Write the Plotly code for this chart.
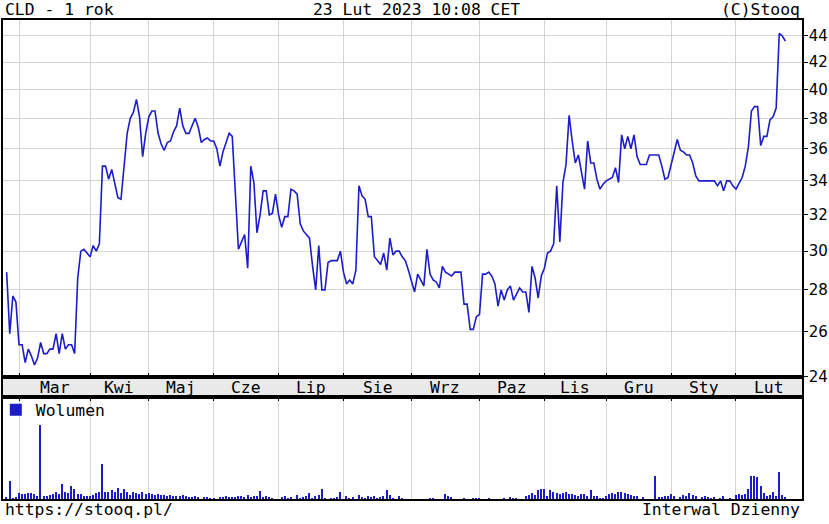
import math
import plotly.graph_objects as go

# --- data -------------------------------------------------------------
# CLD daily close, trading days 23 Feb 2022 .. 23 Feb 2023 (index 0..252)
close = [
    28.9, 25.9, 27.7, 27.4,
    # Mar
    25.4, 25.4, 24.6, 25.2, 24.9, 24.5, 24.8, 25.5, 25.0, 25.0, 25.2, 25.2,
    25.9, 25.0, 25.9, 25.2, 25.4, 25.4, 25.0, 28.6, 30.0, 30.1, 29.9,
    # Kwi
    29.7, 30.3, 30.0, 30.4, 34.9, 34.9, 34.1, 34.7, 33.9, 33.0, 32.9, 34.9,
    37.0, 38.0, 38.4, 39.3, 38.1, 35.5, 37.0,
    # Maj
    38.1, 38.5, 38.5, 37.0, 36.3, 35.9, 36.4, 36.5, 37.1, 37.5, 38.7, 37.5,
    37.0, 37.0, 37.5, 38.0, 37.4, 36.4, 36.6, 36.7, 36.5,
    # Cze
    36.5, 36.0, 34.9, 35.8, 36.4, 37.0, 36.8, 33.4, 30.1, 30.5, 30.9, 29.1,
    34.9, 33.9, 31.0, 32.0, 33.4, 33.4, 32.0, 32.1, 33.2,
    # Lip
    32.0, 31.3, 31.9, 31.9, 33.5, 33.4, 33.2, 31.5, 31.1, 30.9, 30.7, 29.2,
    28.0, 30.3, 28.0, 28.0, 29.4, 29.5, 29.5, 29.5, 30.0,
    # Sie
    28.9, 28.3, 28.5, 28.3, 29.0, 33.7, 33.1, 32.9, 31.9, 31.9, 29.7, 29.5,
    29.3, 29.9, 29.0, 30.7, 29.8, 30.0, 30.0, 29.7, 29.5, 29.0,
    # Wrz
    28.4, 27.9, 28.8, 28.5, 28.2, 30.1, 28.8, 28.5, 28.4, 28.1, 29.2, 28.9,
    28.8, 28.7, 28.9, 28.9, 28.9, 27.3, 27.3, 26.1, 26.1, 26.7,
    # Paz
    26.8, 28.8, 28.8, 28.9, 28.7, 28.3, 27.2, 28.0, 27.5, 28.0, 28.2, 27.5,
    27.8, 28.1, 27.9, 27.9, 26.9, 29.2, 28.6, 27.6, 28.7,
    # Lis
    29.1, 29.9, 30.0, 30.4, 33.7, 30.5, 33.9, 35.0, 38.2, 36.5, 35.1, 35.6,
    34.4, 33.5, 36.5, 35.1, 35.1, 34.1, 33.5, 33.8,
    # Gru
    34.0, 34.1, 34.2, 34.8, 33.9, 36.9, 36.0, 36.8, 36.0, 36.9, 35.5, 35.0,
    35.0, 35.0, 35.6, 35.6, 35.6, 35.6, 34.9, 34.1, 34.2,
    # Sty
    35.0, 35.9, 36.6, 35.9, 35.8, 35.6, 35.6, 35.1, 34.3, 34.0, 34.0, 34.0,
    34.0, 34.0, 34.0, 33.7, 34.0, 33.4, 34.0, 34.0, 33.7,
    # Lut
    33.5, 33.9, 34.2, 34.9, 36.1, 38.5, 38.8, 38.8, 36.2, 36.8, 36.8, 37.9,
    38.1, 38.7, 44.2, 44.0, 43.6,
]

# daily volume (thousand shares)
volume = [
    2, 18, 1, 2,
    6, 5, 5, 6, 6, 5, 3, 74, 3, 3, 4, 5, 7, 5, 15, 7, 6, 13, 10, 5, 5, 3, 3,
    3, 4, 6, 7, 35, 7, 7, 9, 7, 11, 6, 10, 7, 4, 7, 6, 5, 7, 5,
    6, 5, 4, 5, 4, 4, 3, 4, 3, 3, 3, 4, 3, 2, 2, 3, 2, 0, 2, 2, 1,
    1, 0, 2, 2, 3, 2, 2, 2, 3, 3, 2, 4, 2, 3, 3, 8, 2, 3, 2, 1, 0,
    0, 2, 3, 1, 2, 0, 4, 1, 2, 3, 6, 1, 3, 4, 10, 1, 0, 1, 1, 2, 7,
    0, 3, 1, 2, 0, 4, 2, 1, 3, 2, 3, 1, 2, 3, 9, 4, 1, 0, 3, 1, 0, 0,
    0, 0, 0, 0, 0, 0, 1, 1, 0, 0, 0, 5, 3, 2, 0, 0, 0, 1, 0, 0, 1, 1,
    1, 0, 0, 1, 0, 0, 0, 0, 1, 0, 2, 1, 1, 0, 0, 3, 4, 6, 4, 9, 10,
    10, 3, 9, 7, 6, 5, 6, 7, 5, 5, 4, 3, 5, 5, 3, 9, 3, 3, 1, 1,
    3, 5, 6, 5, 7, 7, 6, 5, 4, 3, 3, 0, 2, 0, 0, 0, 23, 2, 2, 3, 3,
    5, 3, 0, 2, 4, 3, 6, 4, 3, 0, 2, 3, 2, 1, 2, 0, 1, 3, 0, 1, 0,
    4, 5, 4, 5, 10, 23, 23, 22, 13, 6, 3, 4, 7, 3, 27, 4, 2,
]

# first trading day of each month (index into the series) and its label
month_start = [4, 27, 46, 67, 88, 109, 131, 153, 174, 194, 215, 236]
month_names = ["Mar", "Kwi", "Maj", "Cze", "Lip", "Sie", "Wrz", "Paz",
               "Lis", "Gru", "Sty", "Lut"]
price_ticks = [24, 26, 28, 30, 32, 34, 36, 38, 40, 42, 44]

days = list(range(len(close)))
X_RANGE = [-1.18, 257.36]
Y_RANGE = [math.log10(23.98), math.log10(45.27)]

BLUE = "#1c1cc8"
GRID = "#d4d4d4"
MONO = "DejaVu Sans Mono"

fig = go.Figure()

fig.add_trace(go.Scatter(
    x=days, y=close, mode="lines", line=dict(color=BLUE, width=1.6),
    xaxis="x", yaxis="y", showlegend=False, hoverinfo="skip",
))
fig.add_trace(go.Bar(
    x=days, y=volume, width=0.45, name="Wolumen",
    marker=dict(color=BLUE, line=dict(width=0)),
    xaxis="x3", yaxis="y3", showlegend=True, hoverinfo="skip",
))

frame = dict(showline=True, linecolor="black", linewidth=1.5, mirror=True)

fig.update_layout(
    width=829, height=524,
    margin=dict(l=3, r=27, t=20, b=25, autoexpand=False),
    paper_bgcolor="white", plot_bgcolor="white",
    font=dict(family=MONO, size=16.4, color="black"),
    bargap=0,
    xaxis=dict(domain=[0, 1], range=X_RANGE, anchor="y",
               tickvals=month_start, showticklabels=False,
               ticks="inside", ticklen=4, tickcolor="black",
               showgrid=True, gridcolor=GRID, gridwidth=1,
               zeroline=False, **frame),
    yaxis=dict(domain=[0.2547, 1], type="log", range=Y_RANGE, side="right",
               anchor="x", tickvals=price_ticks,
               ticktext=[str(v) for v in price_ticks],
               ticks="outside", ticklen=4, tickcolor="black",
               ticklabelstandoff=-2,
               tickfont=dict(family="DejaVu Sans", size=15),
               showgrid=True, gridcolor=GRID, gridwidth=1,
               zeroline=False, automargin=False, **frame),
    yaxis4=dict(type="log", range=Y_RANGE, overlaying="y", side="left",
                anchor="x", tickvals=price_ticks, showticklabels=False,
                ticks="inside", ticklen=4, tickcolor="black",
                showgrid=False, zeroline=False, showline=False,
                automargin=False),
    # month label band
    xaxis2=dict(domain=[0, 1], range=X_RANGE, anchor="y2",
                showticklabels=False, ticks="", showgrid=False,
                zeroline=False, **frame),
    yaxis2=dict(domain=[0.2130, 0.2547], range=[0, 1], anchor="x2",
                showticklabels=False, ticks="", showgrid=False,
                zeroline=False, **frame),
    # volume panel
    xaxis3=dict(domain=[0, 1], range=X_RANGE, anchor="y3", side="top",
                tickvals=month_start, showticklabels=False,
                ticks="inside", ticklen=4, tickcolor="black",
                showgrid=True, gridcolor=GRID, gridwidth=1,
                zeroline=False, **frame),
    yaxis3=dict(domain=[0, 0.2130], range=[0, 102], anchor="x3",
                showticklabels=False, ticks="", showgrid=False,
                zeroline=False, **frame),
    legend=dict(x=-0.009, y=0.222, xanchor="left", yanchor="top",
                bgcolor="rgba(0,0,0,0)", borderwidth=0,
                font=dict(family=MONO, size=16.4),
                itemwidth=30, tracegroupgap=0),
    shapes=[dict(type="rect", xref="x2 domain", yref="y2 domain",
                 x0=0, x1=1, y0=0, y1=1, fillcolor="#e9e9e9",
                 line=dict(width=0), layer="below")],
)

# month names centred between consecutive month starts
edges = month_start + [X_RANGE[1]]
annotations = []
for k, name in enumerate(month_names):
    annotations.append(dict(
        x=(edges[k] + edges[k + 1]) / 2, y=0.45, xref="x2", yref="y2 domain",
        text=name, showarrow=False, xanchor="center", yanchor="middle",
        font=dict(family=MONO, size=16.4)))

header = [
    ("CLD - 1 rok", 0.0, "left"),
    ("23 Lut 2023 10:08 CET", 0.518, "center"),
    ("(C)Stooq", 1.0, "right"),
]
for txt, xp, anc in header:
    annotations.append(dict(x=xp, y=1, xref="paper", yref="paper", text=txt,
                            showarrow=False, xanchor=anc, yanchor="bottom",
                            yshift=-1, font=dict(family=MONO, size=16.4)))
footer = [("https://stooq.pl/", 0.0, "left"), ("Interwal Dzienny", 1.0, "right")]
for txt, xp, anc in footer:
    annotations.append(dict(x=xp, y=0, xref="paper", yref="paper", text=txt,
                            showarrow=False, xanchor=anc, yanchor="top",
                            yshift=1, font=dict(family=MONO, size=16.4)))

fig.update_layout(annotations=annotations)

# the page body has a default 8px margin; drop it so the chart sits at 0,0
fig.write_html("out.html",
               config={"displayModeBar": False},
               post_script="document.body.style.margin='0';"
                           "document.body.style.overflow='hidden';")
